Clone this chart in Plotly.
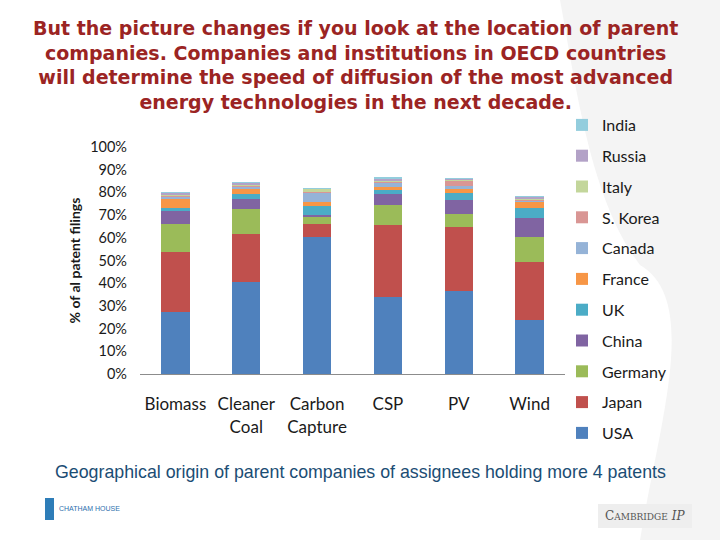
import plotly.graph_objects as go

categories = ["Biomass", "Cleaner<br>Coal", "Carbon<br>Capture", "CSP", "PV", "Wind"]
countries = ["USA", "Japan", "Germany", "China", "UK", "France",
             "Canada", "S. Korea", "Italy", "Russia", "India"]

usa     = [27.4, 40.4, 60.2, 33.8, 36.4, 23.7]
japan   = [26.5, 21.3, 5.9, 31.8, 28.5, 25.8]
germany = [12.2, 11.0, 3.5, 8.8, 5.6, 11.0]
china   = [5.6, 4.4, 0.4, 4.9, 6.2, 8.4]
uk      = [1.6, 2.2, 4.1, 1.8, 3.2, 4.4]
france  = [3.8, 2.5, 1.8, 1.4, 1.6, 2.3]
canada  = [1.2, 0.7, 4.0, 1.8, 1.3, 1.0]
skorea  = [0.3, 0.6, 0.2, 0.6, 2.6, 0.2]
italy   = [0.2, 0.5, 1.4, 0.5, 0.2, 0.2]
russia  = [1.1, 0.6, 0.2, 0.6, 0.6, 1.2]
india   = [0.1, 0.3, 0.1, 0.5, 0.1, 0.2]

series = [usa, japan, germany, china, uk, france, canada, skorea, italy, russia, india]
colors = ["#4F81BD", "#C0504D", "#9BBB59", "#8064A2", "#4BACC6", "#F79646",
          "#95B3D7", "#D99694", "#C3D69B", "#B3A2C7", "#93CDDD"]

y_ticks = [0, 10, 20, 30, 40, 50, 60, 70, 80, 90, 100]
y_tick_text = [f"{v}%" for v in y_ticks]

fig = go.Figure()
for i, (name, vals, col) in enumerate(zip(countries, series, colors)):
    fig.add_trace(go.Bar(x=categories, y=vals, name=name, marker_color=col,
                         marker_line_width=0, legendgroup=name, legendrank=100 - i,
                         width=0.4))

L, R, T, B = 140, 155, 147, 166
H = 540 - T - B
W = 720 - L - R

def py(px):
    return (540 - B - px) / H

def pxf(x):
    return (x - L) / W

# faint decorative background silhouette
fig.add_shape(type="path", xref="paper", yref="paper", layer="below",
              path=("M {a},{b} C {c},{d} {e},{f} {g},{h} C {i},{j} {k},{l} {m},{n} "
                    "L {o},{p} L {o},{b} Z").format(
                  a=pxf(560), b=py(0), c=pxf(575), d=py(80), e=pxf(590), f=py(200),
                  g=pxf(640), h=py(265), i=pxf(700), j=py(300), k=pxf(660), l=py(420),
                  m=pxf(640), n=py(540), o=pxf(720), p=py(540)),
              fillcolor="#F4F4F4", line_width=0)

fig.update_layout(
    width=720, height=540,
    barmode="stack",
    plot_bgcolor="rgba(0,0,0,0)", paper_bgcolor="white",
    margin=dict(l=L, r=R, t=T, b=B, autoexpand=False),
    font=dict(family="Lato", color="#1a1a1a"),
    showlegend=True,
    legend=dict(x=pxf(562), xanchor="left", yref="container", y=1 - 108 / 540,
                yanchor="top", traceorder="grouped", tracegroupgap=7,
                maxheight=420,
                font=dict(size=16, family="Lato", color="#1a1a1a"),
                itemwidth=30, bgcolor="rgba(0,0,0,0)"),
    xaxis=dict(showgrid=False, showline=True, linecolor="#8c8c8c", linewidth=1,
               tickfont=dict(size=17, family="Lato", color="#1a1a1a"),
               ticks="", ticklabelstandoff=15, automargin=False),
    yaxis=dict(range=[0, 100], tickvals=y_ticks, ticktext=y_tick_text,
               showgrid=False, showline=False, zeroline=False, automargin=False,
               tickfont=dict(size=14.5, family="Lato", color="#1a1a1a"),
               ticklabelstandoff=12,
               title=dict(text="<b>% of al patent filings</b>",
                          font=dict(size=14, family="Lato", color="#1a1a1a"),
                          standoff=6)),
)

fig.add_annotation(
    text=("<b>But the picture changes if you look at the location of parent<br>"
          "companies. Companies and institutions in OECD countries<br>"
          "will determine the speed of diffusion of the most advanced<br>"
          "energy technologies in the next decade.</b>"),
    xref="paper", yref="paper", x=pxf(355), y=py(15),
    xanchor="center", yanchor="top", showarrow=False, align="center",
    font=dict(family="DejaVu Sans", size=19, color="#9B2423"))

fig.add_annotation(
    text="Geographical origin of parent companies of assignees holding more 4 patents",
    xref="paper", yref="paper", x=pxf(360), y=py(472),
    xanchor="center", yanchor="middle", showarrow=False,
    font=dict(family="Arial", size=17.8, color="#1B4D74"))

fig.add_annotation(
    text="CHATHAM HOUSE", xref="paper", yref="paper",
    x=pxf(57), y=py(508), xanchor="left", yanchor="middle",
    showarrow=False, font=dict(family="Arial", size=7, color="#2E6FAE"))
fig.add_shape(type="rect", xref="paper", yref="paper",
              x0=pxf(45), x1=pxf(54), y0=py(520), y1=py(498),
              fillcolor="#2E7DB8", line_width=0)

fig.add_shape(type="rect", xref="paper", yref="paper",
              x0=pxf(598), x1=pxf(692), y0=py(528), y1=py(504),
              fillcolor="#EEEEEE", line_width=0)
fig.add_annotation(
    text="C<span style='font-size:9px'>AMBRIDGE</span> <i>IP</i>", xref="paper", yref="paper",
    x=pxf(645), y=py(516), xanchor="center", yanchor="middle",
    showarrow=False, font=dict(family="DejaVu Serif", size=12, color="#555555"))

fig.write_html("out.html", config={"displayModeBar": False},
               post_script="document.body.style.margin='0';")
